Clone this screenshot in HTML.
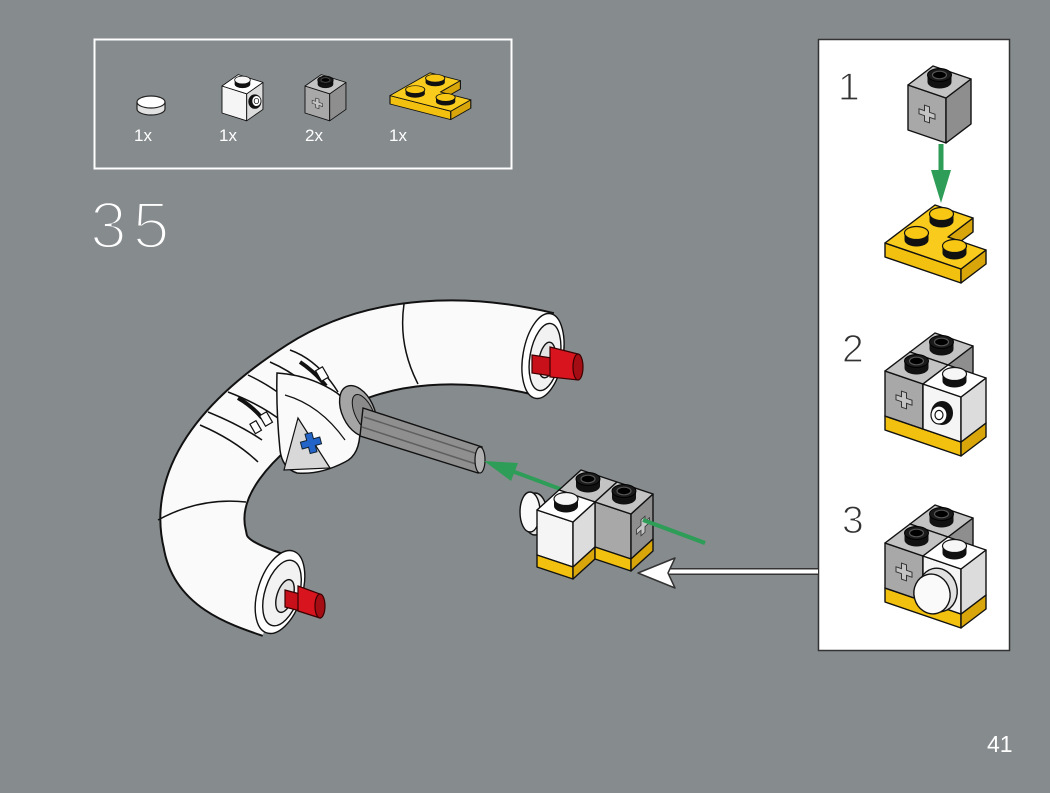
<!DOCTYPE html>
<html><head><meta charset="utf-8">
<style>
html,body{margin:0;padding:0;background:#868b8e;}
svg{display:block;}
.o{stroke:#111;stroke-width:1.4;stroke-linejoin:round;}
.t{font-family:"Liberation Sans",sans-serif;}
</style></head>
<body>
<svg width="1050" height="793" viewBox="0 0 1050 793" xmlns="http://www.w3.org/2000/svg">
<defs>
  <g id="studK">
    <ellipse cx="0" cy="0" rx="12" ry="6.5" fill="#111"/>
    <rect x="-12" y="-7" width="24" height="7" fill="#111"/>
    <ellipse cx="0" cy="-7" rx="12" ry="6.5" fill="#1a1a1a" stroke="#000" stroke-width="1"/>
    <ellipse cx="0" cy="-7" rx="7" ry="3.8" fill="#000" stroke="#555" stroke-width="1.2"/>
  </g>
  <g id="studW">
    <ellipse cx="0" cy="0" rx="12" ry="6.5" fill="#111"/>
    <rect x="-12" y="-7" width="24" height="7" fill="#111"/>
    <ellipse cx="0" cy="-7" rx="12" ry="6.5" fill="#f6f6f6" stroke="#111" stroke-width="1.2"/>
  </g>
  <g id="studY">
    <ellipse cx="0" cy="0" rx="12" ry="6.5" fill="#111"/>
    <rect x="-12" y="-7" width="24" height="7" fill="#111"/>
    <ellipse cx="0" cy="-7" rx="12" ry="6.5" fill="#f7c714" stroke="#111" stroke-width="1.2"/>
  </g>
  <g id="crossF">
    <path d="M-2.5,-8 h5 v5.5 h5.5 v5 h-5.5 v5.5 h-5 v-5.5 h-5.5 v-5 h5.5z" fill="#c4c4c4" stroke="#333" stroke-width="1"/>
  </g>
  <g id="gb">
    <polygon class="o" points="0,0 38,13 38,-32 0,-45" fill="#a8a8a8"/>
    <polygon class="o" points="38,13 63,-6 63,-51 38,-32" fill="#8e8e8e"/>
    <polygon class="o" points="0,-45 38,-32 63,-51 25,-64" fill="#c3c3c3"/>
    <use href="#studK" x="31.5" y="-48"/>
    <g transform="translate(19,-16) skewY(18.9)"><use href="#crossF"/></g>
  </g>
  <g id="wbF">
    <polygon class="o" points="0,0 38,13 38,-32 0,-45" fill="#f5f5f5"/>
    <polygon class="o" points="38,13 63,-6 63,-51 38,-32" fill="#dcdcdc"/>
    <polygon class="o" points="0,-45 38,-32 63,-51 25,-64" fill="#ffffff"/>
    <use href="#studW" x="31.5" y="-48"/>
    <ellipse cx="19" cy="-16" rx="11" ry="12" fill="#111"/>
    <ellipse cx="16" cy="-14" rx="8" ry="9" fill="#fff" stroke="#111" stroke-width="1.2"/>
    <ellipse cx="16" cy="-14" rx="4" ry="4.6" fill="none" stroke="#111" stroke-width="1.2"/>
  </g>
  <g id="wbR">
    <polygon class="o" points="0,0 38,13 38,-32 0,-45" fill="#f5f5f5"/>
    <polygon class="o" points="38,13 63,-6 63,-51 38,-32" fill="#dcdcdc"/>
    <polygon class="o" points="0,-45 38,-32 63,-51 25,-64" fill="#ffffff"/>
    <use href="#studW" x="31.5" y="-48"/>
    <ellipse cx="50.5" cy="-19" rx="10" ry="12" fill="#111"/>
    <ellipse cx="53" cy="-20" rx="7" ry="9" fill="#fff" stroke="#111" stroke-width="1.2"/>
    <ellipse cx="53" cy="-20" rx="3.5" ry="4.5" fill="none" stroke="#111" stroke-width="1.2"/>
  </g>
  <g id="yl">
    <polygon class="o" points="63,-6 88,-25 88,-39 63,-20" fill="#d8a60a"/>
    <polygon class="o" points="0,0 76,26 76,12 0,-14" fill="#f2c00e"/>
    <polygon class="o" points="76,26 101,7 101,-7 76,12" fill="#d8a60a"/>
    <polygon class="o" points="0,-14 76,12 101,-7 63,-20 88,-39 50,-52" fill="#f8cb1c"/>
    <use href="#studY" x="56.5" y="-36"/>
    <use href="#studY" x="31.5" y="-17"/>
    <use href="#studY" x="69.5" y="-4"/>
  </g>
  <g id="asm2">
    <use href="#yl" transform="translate(885,430)"/>
    <use href="#gb" transform="translate(910,397)"/>
    <use href="#gb" transform="translate(885,416)"/>
    <use href="#wbF" transform="translate(923,429)"/>
  </g>
  <linearGradient id="tubeShade" x1="0" y1="0" x2="1" y2="1">
    <stop offset="0" stop-color="#ffffff"/>
    <stop offset="1" stop-color="#f1f1f1"/>
  </linearGradient>
</defs>

<rect width="1050" height="793" fill="#868b8e"/>

<!-- parts box -->
<rect x="94.5" y="39.5" width="417" height="129" fill="none" stroke="#fff" stroke-width="2"/>
<ellipse cx="151" cy="109" rx="14" ry="6" fill="#e2e2e2" stroke="#222" stroke-width="1.2"/>
<rect x="137" y="102" width="28" height="7" fill="#e2e2e2"/>
<line x1="137" y1="102" x2="137" y2="109" stroke="#222" stroke-width="1.2"/>
<line x1="165" y1="102" x2="165" y2="109" stroke="#222" stroke-width="1.2"/>
<ellipse cx="151" cy="102" rx="14" ry="6" fill="#fff" stroke="#222" stroke-width="1.2"/>
<use href="#wbR" transform="translate(222,113) scale(0.65,0.6)"/>
<use href="#gb" transform="translate(305,113) scale(0.65,0.6)"/>
<use href="#yl" transform="translate(390,104) scale(0.8,0.6)"/>
<g class="t" fill="#fff" font-size="17">
  <text x="134" y="141">1x</text>
  <text x="219" y="141">1x</text>
  <text x="305" y="141">2x</text>
  <text x="389" y="141">1x</text>
</g>

<!-- step number -->
<text class="t" x="90" y="248" font-size="66" letter-spacing="6" fill="#fff" stroke="#868b8e" stroke-width="3">35</text>

<!-- right panel -->
<rect x="818.5" y="39.5" width="191" height="611" fill="#fff" stroke="#333" stroke-width="1.5"/>
<g class="t" fill="#333" font-size="39" stroke="#fff" stroke-width="1.2">
  <text x="838" y="100">1</text>
  <text x="842" y="362">2</text>
  <text x="842" y="533">3</text>
</g>
<!-- step 1 -->
<use href="#gb" transform="translate(908,130)"/>
<line x1="941" y1="144" x2="941" y2="174" stroke="#2e9d57" stroke-width="5"/>
<polygon points="931,170 951,170 941,203" fill="#2e9d57"/>
<use href="#yl" transform="translate(885,257)"/>
<!-- step 2 -->
<use href="#asm2"/>
<!-- step 3 -->
<use href="#asm2" transform="translate(0,172)"/>
<ellipse cx="938" cy="590" rx="19" ry="22" transform="rotate(-15 938 590)" fill="#e0e0e0" stroke="#111" stroke-width="1.4"/>
<ellipse cx="932" cy="594" rx="18" ry="20" transform="rotate(-15 932 594)" fill="#fafafa" stroke="#111" stroke-width="1.4"/>

<!-- main model: tube -->
<path d="M 544 354 C 470 336, 380 335, 310 380 C 240 425, 190 480, 205 540 C 210 572, 240 584, 276 596" fill="none" stroke="#111" stroke-width="86"/>
<path d="M 544 354 C 470 336, 380 335, 310 380 C 240 425, 190 480, 205 540 C 210 572, 240 584, 276 596" fill="none" stroke="#fafafa" stroke-width="82"/>
<!-- seams -->
<g fill="none" stroke="#111" stroke-width="1.5">
  <path d="M 404 304 Q 398 345 418 384"/>
  <path d="M 158 520 Q 200 497 246 502"/>
  <path d="M 290 350 Q 318 360 338 392"/>
  <path d="M 270 362 Q 300 375 322 400"/>
  <path d="M 248 375 Q 280 390 300 412"/>
  <path d="M 228 392 Q 262 405 283 422"/>
  <path d="M 208 412 Q 240 425 262 440"/>
  <path d="M 200 425 Q 235 440 258 462"/>
</g>
<g fill="none" stroke="#111" stroke-width="4">
  <path d="M 300 362 Q 315 372 326 386"/>
  <path d="M 238 398 Q 252 406 262 418"/>
</g>
<g fill="#fff" stroke="#111" stroke-width="1.2">
  <rect x="318" y="368" width="8" height="12" transform="rotate(-30 322 374)"/>
  <rect x="262" y="413" width="8" height="12" transform="rotate(-30 266 419)"/>
  <rect x="252" y="422" width="7" height="11" transform="rotate(-30 255 427)"/>
</g>
<!-- connector -->
<path d="M277 373 Q310 375 337 393 Q358 410 360 430 Q360 455 345 462 Q320 475 297 473 Q282 468 280 450 Q276 410 277 373 Z" fill="#fafafa" stroke="#111" stroke-width="1.5"/>
<path d="M284 470 L298 418 L330 468 Z" fill="#d8d8d8" stroke="#111" stroke-width="1.2"/>
<path d="M285 395 Q320 405 345 440" fill="none" stroke="#111" stroke-width="1.2"/>
<g transform="translate(311,443) rotate(-15)">
  <path d="M-3.5,-10 h7 v6.5 h6.5 v7 h-6.5 v6.5 h-7 v-6.5 h-6.5 v-7 h6.5z" fill="#2364c8" stroke="#123" stroke-width="1"/>
</g>
<!-- bushing & axle -->
<ellipse cx="358" cy="411" rx="16" ry="27" transform="rotate(-25 358 411)" fill="#a5a5a5" stroke="#111" stroke-width="1.4"/>
<ellipse cx="364" cy="413" rx="9" ry="20" transform="rotate(-25 364 413)" fill="#8a8a8a" stroke="#111" stroke-width="1"/>
<polygon points="363,408 482,447 478,473 360,436" fill="#8f8f8f" stroke="#111" stroke-width="1.4"/>
<line x1="364" y1="417" x2="481" y2="455" stroke="#5f5f5f" stroke-width="1.5"/>
<line x1="362" y1="427" x2="479" y2="465" stroke="#5f5f5f" stroke-width="1.5"/>
<ellipse cx="480" cy="460" rx="5" ry="13" fill="#b0b0b0" stroke="#111" stroke-width="1.2"/>
<!-- end caps -->
<g stroke="#111" stroke-width="1.4">
  <ellipse cx="543" cy="356" rx="20" ry="43" transform="rotate(10 543 356)" fill="#fff"/>
  <ellipse cx="545" cy="357" rx="15" ry="34" transform="rotate(10 545 357)" fill="#f2f2f2"/>
  <ellipse cx="547" cy="360" rx="8" ry="18" transform="rotate(10 547 360)" fill="#e4e4e4"/>
  <ellipse cx="280" cy="592" rx="22" ry="43" transform="rotate(18 280 592)" fill="#fff"/>
  <ellipse cx="282" cy="593" rx="17" ry="34" transform="rotate(18 282 593)" fill="#f2f2f2"/>
  <ellipse cx="285" cy="596" rx="8" ry="17" transform="rotate(18 285 596)" fill="#e4e4e4"/>
</g>
<!-- red pins -->
<g stroke="#3a0000" stroke-width="1.2">
  <path d="M532 355 L552 358 L552 376 L532 373 Z" fill="#c8101a"/>
  <path d="M550 347 L578 354 L578 380 L550 377 Z" fill="#d8141e"/>
  <ellipse cx="578" cy="367" rx="5" ry="13" fill="#a50d14"/>
  <path d="M285 590 L300 594 L300 611 L285 607 Z" fill="#c8101a"/>
  <path d="M298 586 L320 594 L320 618 L298 611 Z" fill="#d8141e"/>
  <ellipse cx="320" cy="606" rx="5" ry="12" fill="#a50d14"/>
</g>

<!-- green arrow (behind subassembly) -->
<line x1="705" y1="543" x2="512" y2="471" stroke="#2e9d57" stroke-width="4"/>
<polygon points="484,461 518,463 511,481" fill="#2e9d57"/>

<!-- main subassembly -->
<ellipse cx="535" cy="514" rx="12" ry="21" fill="#e4e4e4" stroke="#111" stroke-width="1.4"/>
<ellipse cx="530" cy="512" rx="10" ry="20" fill="#fafafa" stroke="#111" stroke-width="1.4"/>
<polygon class="o" points="559,490 595,502 617,482 581,470" fill="#c3c3c3"/>
<polygon class="o" points="595,547 631,559 631,514 595,502" fill="#a8a8a8"/>
<polygon class="o" points="631,559 653,539 653,494 631,514" fill="#8e8e8e"/>
<polygon class="o" points="595,502 631,514 653,494 617,482" fill="#c3c3c3"/>
<polygon class="o" points="537,555 573,567 573,522 537,510" fill="#f5f5f5"/>
<polygon class="o" points="573,567 595,547 595,502 573,522" fill="#dcdcdc"/>
<polygon class="o" points="537,510 573,522 595,502 559,490" fill="#ffffff"/>
<polygon class="o" points="537,567 573,579 573,567 537,555" fill="#f2c00e"/>
<polygon class="o" points="573,579 595,559 595,547 573,567" fill="#d8a60a"/>
<polygon class="o" points="595,559 631,571 631,559 595,547" fill="#f2c00e"/>
<polygon class="o" points="631,571 653,551 653,539 631,559" fill="#d8a60a"/>
<use href="#studK" x="588" y="486"/>
<use href="#studK" x="624" y="498"/>
<use href="#studW" x="566" y="506"/>
<g transform="translate(643,526) skewY(-42) scale(0.8,1)"><use href="#crossF"/></g>
<line x1="643" y1="520" x2="705" y2="543" stroke="#2e9d57" stroke-width="4"/>

<!-- callout arrow -->
<line x1="818" y1="571.5" x2="668" y2="571.5" stroke="#333" stroke-width="7"/>
<line x1="818" y1="571.5" x2="666" y2="571.5" stroke="#fff" stroke-width="4"/>
<polygon points="638,573 675,558 668,573 675,588" fill="#fff" stroke="#333" stroke-width="1.5" stroke-linejoin="round"/>

<!-- page number -->
<text class="t" x="987" y="752" font-size="23" fill="#fff">41</text>
</svg>
</body></html>
